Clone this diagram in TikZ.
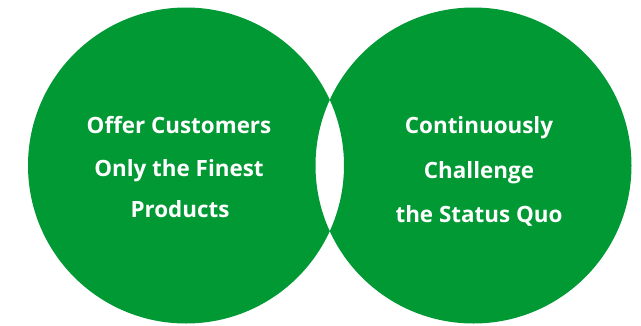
\documentclass[tikz,border=0pt]{standalone}
\usepackage{fontspec}
\setmainfont{Open Sans}
\definecolor{vgreen}{RGB}{0,153,51}
\begin{document}
\begin{tikzpicture}[x=1pt,y=-1pt,
  lbl/.style={anchor=base,text=white,inner sep=0pt,font=\bfseries\fontsize{22.4}{26}\selectfont}]
\useasboundingbox (0,0) rectangle (641,325);
\fill[vgreen,even odd rule] (186,165.5) circle[radius=158] (473.5,165.5) circle[radius=158];
\node[lbl] (l1) at (179,133) {Offer Customers};
\node[lbl] (l2) at (179,176) {Only the Finest};
\node[lbl] (l3) at (180,217) {Products};
\node[lbl] (r1) at (479,133) {Continuously};
\node[lbl] (r2) at (479,178) {Challenge};
\node[lbl] (r3) at (479,222) {the Status Quo};
\end{tikzpicture}
\end{document}
